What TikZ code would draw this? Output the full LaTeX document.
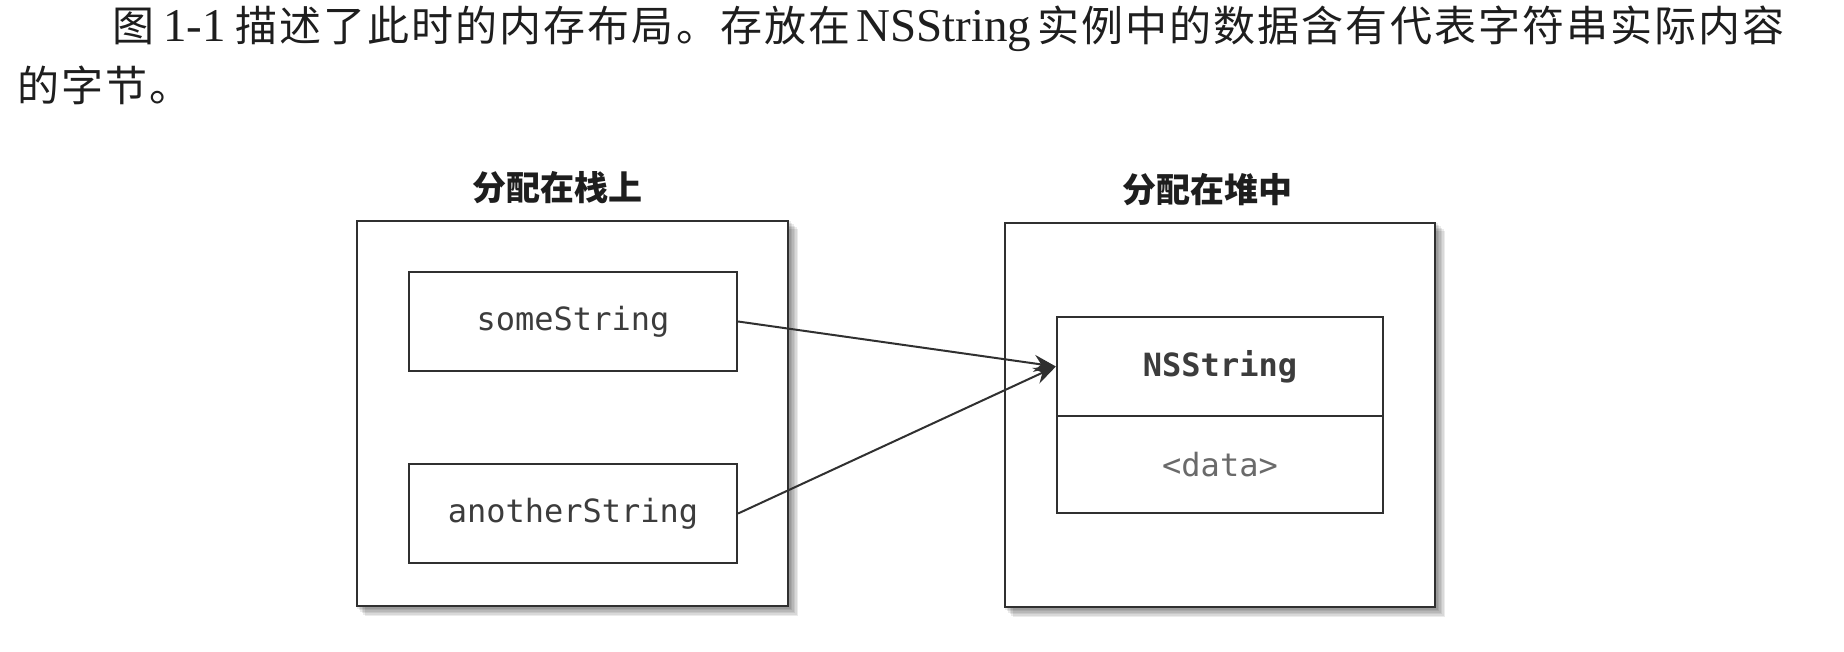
\documentclass[tikz,border=0pt]{standalone}
\usepackage{fontspec}
\setmainfont{Liberation Serif}
\setmonofont{DejaVu Sans Mono}
\newfontfamily\cjk{Noto Sans CJK SC}
\newfontfamily\cjkp{Noto Sans CJK SC}[LetterSpace=5]
\usetikzlibrary{arrows.meta,fit,backgrounds}
\definecolor{ln}{HTML}{303030}
\definecolor{txt}{HTML}{1E1E1E}
\definecolor{lbl}{HTML}{3C3C3C}
\definecolor{dim}{HTML}{6A6A6A}
\newcommand{\lat}[1]{{\fontsize{23.5pt}{25pt}\selectfont\rmfamily #1}}
\begin{document}
\begin{tikzpicture}[x=0.5pt,y=-0.5pt,
  para/.style={anchor=base west,inner sep=0pt,text=txt,font=\fontsize{21pt}{25pt}\selectfont\cjkp},
  title/.style={inner sep=0pt,text=txt,font=\fontsize{17pt}{20pt}\selectfont\cjk\bfseries},
  outer/.style={draw=ln,line width=1.2pt,fill=white,inner sep=0pt},
  cell/.style={draw=ln,line width=1.1pt,fill=white,inner sep=0pt},
  mono/.style={text=lbl,font=\fontsize{16pt}{19pt}\selectfont\ttfamily},
  shade/.style={fill=black,opacity=0.08},
  arr/.style={draw=ln,line width=1pt,-{Stealth[length=11pt,width=8.5pt]}}]
\useasboundingbox (0,0) rectangle (1844,652);

% paragraph
\node[para] (p1) at (112,42) {图\hspace{4.5pt}\lat{1-1}\hspace{4.5pt}描述了此时的内存布局。存放在\hspace{3pt}\lat{NSString}\hspace{3pt}实例中的数据含有代表字符串实际内容};
\node[para] (p2) at (17,102) {的字节。};

% titles
\node[title] (t1) at (557,188) {分配在栈上};
\node[title] (t2) at (1207,190) {分配在堆中};

% outer boxes
\node[outer,fit={(357,221) (788,606)}] (stack) {};
\node[outer,fit={(1005,223) (1435,607)}] (heap) {};

% background and shadows
\begin{scope}[on background layer]
  \fill[white] (0,0) rectangle (1844,652);
  \foreach \d in {1.5,3,4.5,6,7.5,9}{
    \fill[shade] ([shift={(\d,\d)}]stack.north west) rectangle ([shift={(\d,\d)}]stack.south east);
    \fill[shade] ([shift={(\d,\d)}]heap.north west) rectangle ([shift={(\d,\d)}]heap.south east);
  }
\end{scope}

% stack cells
\node[cell,fit={(409,272) (737,371)}] (some) {};
\node[mono] (someL) at (some.center) {someString};
\node[cell,fit={(409,464) (737,563)}] (another) {};
\node[mono] (anotherL) at (another.center) {anotherString};

% heap object
\node[cell,fit={(1057,317) (1383,416)}] (nstop) {};
\node[mono,font=\fontsize{16pt}{19pt}\selectfont\ttfamily\bfseries] (nsL) at (nstop.center) {NSString};
\node[cell,fit={(1057,416) (1383,513)}] (nsdata) {};
\node[mono,text=dim] (dataL) at (nsdata.center) {<data>};

% pointers
\draw[arr] (some.east) -- (nstop.west);
\draw[arr] (another.east) -- (nstop.west);
\end{tikzpicture}
\end{document}
